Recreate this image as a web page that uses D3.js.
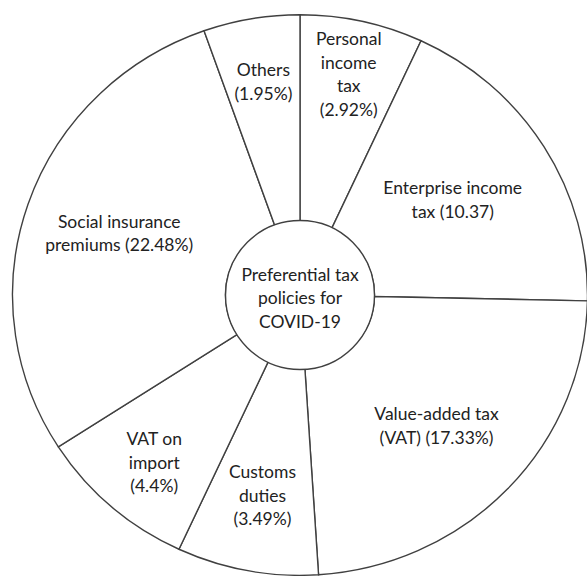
<!DOCTYPE html>
<html>
<head>
<meta charset="utf-8">
<script src="https://cdn.jsdelivr.net/npm/d3@7"></script>
<style>
  body { margin: 0; background: #fff; }
  svg { display: block; }
  .label { font-family: Lato, 'Open Sans', sans-serif; font-size: 17.5px; fill: #222; }
</style>
</head>
<body>
<div id="chart"></div>
<script>
// slices clockwise from 12 o'clock
const categories = ['Personal income tax', 'Enterprise income tax', 'Value-added tax (VAT)', 'Customs duties', 'VAT on import', 'Social insurance premiums', 'Others']
const shares = [2.92, 10.37, 17.33, 3.49, 4.4, 22.48, 1.95]
// angle each segment takes in the drawing (degrees), not proportional to share
const sliceAngles = [24.9, 66.3, 85.1, 28.6, 32.3, 103.3, 19.5]
const labelLines = [
  ['Personal', 'income', 'tax', '(2.92%)'],
  ['Enterprise income', 'tax (10.37)'],
  ['Value-added tax', '(VAT) (17.33%)'],
  ['Customs', 'duties', '(3.49%)'],
  ['VAT on', 'import', '(4.4%)'],
  ['Social insurance', 'premiums  (22.48%)'],
  ['Others', '(1.95%)']
]
const centerLines = ['Preferential tax', 'policies for', 'COVID-19']

const width = 587
const height = 576
const cx = 300
const cy = 295
const outerR = 287.5
const innerR = 74.5
const lineH = 23.5

// how far out each label sits from the centre
const labelRadius = {
  'Personal income tax': 226,
  'Enterprise income tax': 180,
  'Value-added tax (VAT)': 189,
  'Customs duties': 204,
  'VAT on import': 222,
  'Social insurance premiums': 191,
  'Others': 216
}

const data = categories.map((c, i) => ({ name: c, share: shares[i], angle: sliceAngles[i], lines: labelLines[i] }))

const svg = d3.select('#chart').append('svg')
  .attr('width', width)
  .attr('height', height)

const g = svg.append('g')
  .attr('transform', `translate(${cx}, ${cy})`)

const pie = d3.pie().sort(null).value((d) => d.angle)
const arcs = pie(data)

const arc = d3.arc().innerRadius(innerR).outerRadius(outerR)

// outer ring is slightly squashed vertically in the original
g.append('g')
  .attr('transform', 'scale(1, 0.975)')
  .selectAll('path')
  .data(arcs)
  .enter().append('path')
  .attr('d', arc)
  .attr('fill', '#fff')
  .attr('stroke', '#404040')
  .attr('stroke-width', 1.4)
  .attr('vector-effect', 'non-scaling-stroke')

g.append('circle')
  .attr('r', innerR)
  .attr('fill', '#fff')
  .attr('stroke', '#404040')
  .attr('stroke-width', 1.4)

const labels = g.selectAll('.label-group')
  .data(arcs)
  .enter().append('g')
  .attr('class', 'label-group')
  .attr('transform', (d) => {
    const r = labelRadius[d.data.name]
    const [x, y] = d3.arc().innerRadius(r).outerRadius(r).centroid(d)
    return `translate(${x}, ${y})`
  })

labels.each(function (d) {
  const sel = d3.select(this)
  const n = d.data.lines.length
  sel.selectAll('text')
    .data(d.data.lines)
    .enter().append('text')
    .attr('class', 'label')
    .attr('text-anchor', 'middle')
    .attr('y', (t, i) => (i - (n - 1) / 2) * lineH)
    .attr('dy', '0.35em')
    .text((t) => t)
})

g.append('g')
  .attr('transform', 'translate(0, 3)')
  .selectAll('text')
  .data(centerLines)
  .enter().append('text')
  .attr('class', 'label')
  .attr('text-anchor', 'middle')
  .attr('y', (t, i) => (i - 1) * lineH)
  .attr('dy', '0.35em')
  .text((t) => t)
</script>
</body>
</html>
